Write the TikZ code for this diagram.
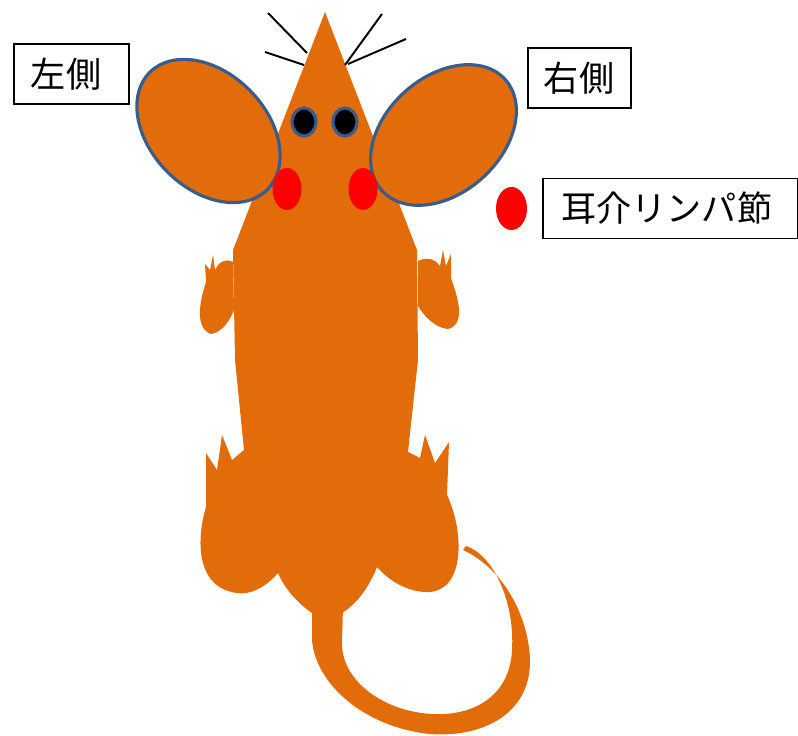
\documentclass[tikz,border=0pt]{standalone}
\usepackage{fontspec}
\newfontfamily\jpfont{Noto Sans CJK JP}
\usepackage{tikz}
\usetikzlibrary{positioning,shapes.geometric}
\definecolor{msorange}{RGB}{227,108,10}
\definecolor{msbleu}{RGB}{56,93,138}
\definecolor{msrouge}{RGB}{255,0,0}

\begin{document}
\begin{tikzpicture}[x=0.02cm, y=-0.02cm,
  corps/.style={fill=msorange},
  oreille/.style={fill=msorange, draw=msbleu, line width=1.8pt},
  oeil/.style={fill=black, draw=msbleu, line width=1.8pt},
  joue/.style={fill=msrouge},
  moust/.style={draw=black, line width=1.1pt},
  etiq/.style={rectangle, draw=black, line width=1.1pt, anchor=north west,
    minimum height=1.2cm, align=left, font=\jpfont\fontsize{20}{24}\selectfont}
]
  \useasboundingbox (0,0) rectangle (798,736);

  % Body, head and hind legs
  \fill[corps] (325,12) -- (417,250) -- (418,360) -- (408,452)
    -- (420,458) -- (425,435) -- (435,463) -- (449,442) -- (447,495)
    .. controls (462,525) and (468,588) .. (430,592)
    .. controls (410,593) and (390,582) .. (377,567)
    .. controls (368,590) and (355,605) .. (342,613)
    -- (312,613)
    .. controls (300,605) and (285,590) .. (278,573)
    .. controls (265,588) and (250,595) .. (237,593)
    .. controls (196,588) and (196,540) .. (206,507)
    -- (206,453) -- (217,470) -- (222,435) -- (232,460) -- (244,450)
    -- (235,360) -- (233,250) -- cycle;

  % Front paws
  \fill[corps] (233,262) .. controls (225,258) and (219,262) .. (215,270)
    -- (213,255) -- (210,270) -- (205,264) -- (206,282)
    .. controls (200,300) and (194,328) .. (211,334)
    .. controls (223,332) and (230,320) .. (234,310) -- cycle;
  \fill[corps] (418,261) .. controls (428,256) and (436,260) .. (440,266)
    -- (443,250) -- (446,266) -- (451,254) -- (451,278)
    .. controls (457,295) and (467,324) .. (448,329)
    .. controls (435,328) and (424,316) .. (418,306) -- cycle;

  % Tail
  \fill[corps] (312,605) -- (312,640)
    .. controls (315,682) and (362,727) .. (430,734)
    .. controls (482,738) and (531,714) .. (530,660)
    .. controls (529,620) and (506,570) .. (463,550)
    -- (466,546)
    .. controls (492,554) and (515,600) .. (512,650)
    .. controls (510,695) and (475,716) .. (433,714)
    .. controls (385,712) and (343,682) .. (342,645)
    -- (343,605) -- cycle;

  % Whiskers
  \draw[moust] (307,53) -- (268,13);
  \draw[moust] (304,65) -- (265,52);
  \draw[moust] (345,65) -- (382,14);
  \draw[moust] (348,64) -- (406,39);

  % Ears
  \draw[oreille, rotate around={-45:(208.5,131)}] (208.5,131)
    ellipse [x radius=83, y radius=58];
  \draw[oreille, rotate around={42:(443.5,135)}] (443.5,135)
    ellipse [x radius=83, y radius=58];

  % Eyes and cheeks
  \draw[oeil] (304,122) ellipse [x radius=12, y radius=14];
  \draw[oeil] (345,122) ellipse [x radius=12, y radius=14];
  \fill[joue] (287,189) ellipse [x radius=14.5, y radius=21];
  \fill[joue] (363,189) ellipse [x radius=14.5, y radius=21];

  % Labels
  \node[etiq, inner xsep=0.34cm, text width=1.62cm] (gauche) at (13,43) {左側};
  \node[etiq, inner xsep=0.32cm, text width=1.42cm] (droite) at (527,47) {右側};
  \node[joue, ellipse, inner sep=0pt, minimum width=0.62cm,
    minimum height=0.86cm] (pastille) at (511.5,208.5) {};
  \node[etiq, anchor=west, inner xsep=0.36cm, text width=4.38cm,
    right=0.3cm of pastille] (lymphe) {耳介リンパ節};
\end{tikzpicture}
\end{document}
